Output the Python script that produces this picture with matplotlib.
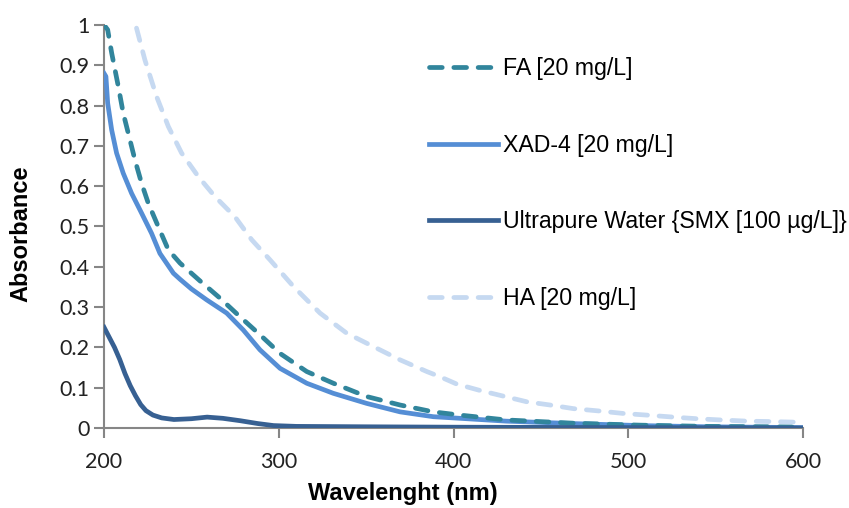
import matplotlib.pyplot as plt

# data
wl_fa = [200, 202.1, 204.4, 208.2, 211, 213.9, 217.7, 221.5, 225.3, 231, 236.8, 243.5, 254.9, 266.4,
         277.8, 289.3, 300.7, 316, 331.2, 350.3, 369.4, 388.4, 403.7, 430, 468, 507, 545, 583, 600]
abs_fa = [1.0, 0.988, 0.93, 0.847, 0.781, 0.731, 0.665, 0.607, 0.558, 0.50, 0.442, 0.409, 0.365, 0.322,
          0.276, 0.231, 0.185, 0.14, 0.111, 0.078, 0.057, 0.040, 0.032, 0.02, 0.012, 0.007, 0.004, 0.003, 0.002]

wl_xad = [200, 201.1, 202.1, 204.4, 207.2, 211, 215.8, 221.5, 227.2, 232, 239.7, 243.5, 250, 258.7, 270.2,
          279.7, 289.2, 300.7, 316, 331.2, 350.3, 369.4, 388.4, 403.7, 430, 468, 507, 545, 600]
abs_xad = [0.88, 0.872, 0.806, 0.739, 0.682, 0.632, 0.582, 0.533, 0.483, 0.433, 0.384, 0.369, 0.345, 0.318, 0.285,
           0.243, 0.194, 0.148, 0.111, 0.086, 0.061, 0.040, 0.028, 0.024, 0.017, 0.011, 0.006, 0.003, 0.001]

wl_up = [200, 203, 206, 209, 212, 215, 218, 221, 224, 228, 233, 240, 250, 259, 268, 278, 288, 297,
         310, 350, 400, 500, 600]
abs_up = [0.25, 0.225, 0.20, 0.17, 0.135, 0.105, 0.08, 0.058, 0.043, 0.032, 0.025, 0.021, 0.023, 0.027,
          0.024, 0.018, 0.011, 0.006, 0.004, 0.003, 0.002, 0.001, 0.0]

wl_ha = [218.6, 223.4, 230.1, 236.8, 244.4, 253.9, 263.5, 274.9, 284.5, 295, 308.4, 323.6, 338.9, 354.1,
         369.4, 384.7, 392.3, 401.8, 415.2, 428.5, 441.9, 455.2, 468.6, 483.8, 497.2, 510.5, 525.8, 539.2,
         552.5, 567.8, 581.1, 600]
abs_ha = [0.992, 0.913, 0.822, 0.748, 0.682, 0.624, 0.574, 0.524, 0.467, 0.417, 0.351, 0.285, 0.235, 0.202,
          0.169, 0.140, 0.127, 0.109, 0.093, 0.079, 0.065, 0.057, 0.048, 0.042, 0.036, 0.032, 0.027, 0.023,
          0.020, 0.017, 0.016, 0.014]

labels = ['FA [20 mg/L]', 'XAD-4 [20 mg/L]', 'Ultrapure Water {SMX [100 µg/L]}', 'HA [20 mg/L]']

fig = plt.figure(figsize=(8.49, 5.08), dpi=100)
ax = fig.add_axes([0.1225, 0.1575, 0.8235, 0.7935])

lw = 3.4
dash = (2.7, 2.45)
ax.plot(wl_ha, abs_ha, color='#C6D9F1', lw=lw, dashes=dash, dash_capstyle='round',
        label=labels[3], zorder=2)
ax.plot(wl_xad, abs_xad, color='#558ED5', lw=lw, label=labels[1], zorder=3)
ax.plot(wl_fa, abs_fa, color='#31859C', lw=lw, dashes=dash, dash_capstyle='round',
        label=labels[0], zorder=4)
ax.plot(wl_up, abs_up, color='#376092', lw=lw, label=labels[2], zorder=5)

ax.set_xlim(200, 600)
ax.set_ylim(0, 1)
ax.set_xticks(range(200, 601, 100))
ax.set_yticks([i / 10 for i in range(11)])
ax.set_yticklabels(['0', '0.1', '0.2', '0.3', '0.4', '0.5', '0.6', '0.7', '0.8', '0.9', '1'])

for s in ['top', 'right']:
    ax.spines[s].set_visible(False)
for s in ['left', 'bottom']:
    ax.spines[s].set_color('#868686')
    ax.spines[s].set_linewidth(1.5)
ax.tick_params(colors='#868686', width=1.5, length=7, labelsize=15.5, labelcolor='#222222')
for t in ax.get_xticklabels() + ax.get_yticklabels():
    t.set_family('Lato')
ax.tick_params(axis='x', pad=10)

ax.set_xlabel('Wavelenght (nm)', fontsize=17, fontweight='bold', family='Liberation Sans')
ax.set_ylabel('Absorbance', fontsize=17, fontweight='bold', family='Liberation Sans')
ax.xaxis.set_label_coords(0.428, -0.135)
ax.yaxis.set_label_coords(-0.103, 0.481)

h, l = ax.get_legend_handles_labels()
order = [l.index(x) for x in labels]
ax.legend([h[i] for i in order], [l[i] for i in order], loc='upper left',
          bbox_to_anchor=(0.435, 0.9725), frameon=False,
          prop={'family': 'Liberation Sans', 'size': 16.7},
          handlelength=2.97, handletextpad=0.22, labelspacing=2.32)

fig.savefig('out.png', dpi=100)
